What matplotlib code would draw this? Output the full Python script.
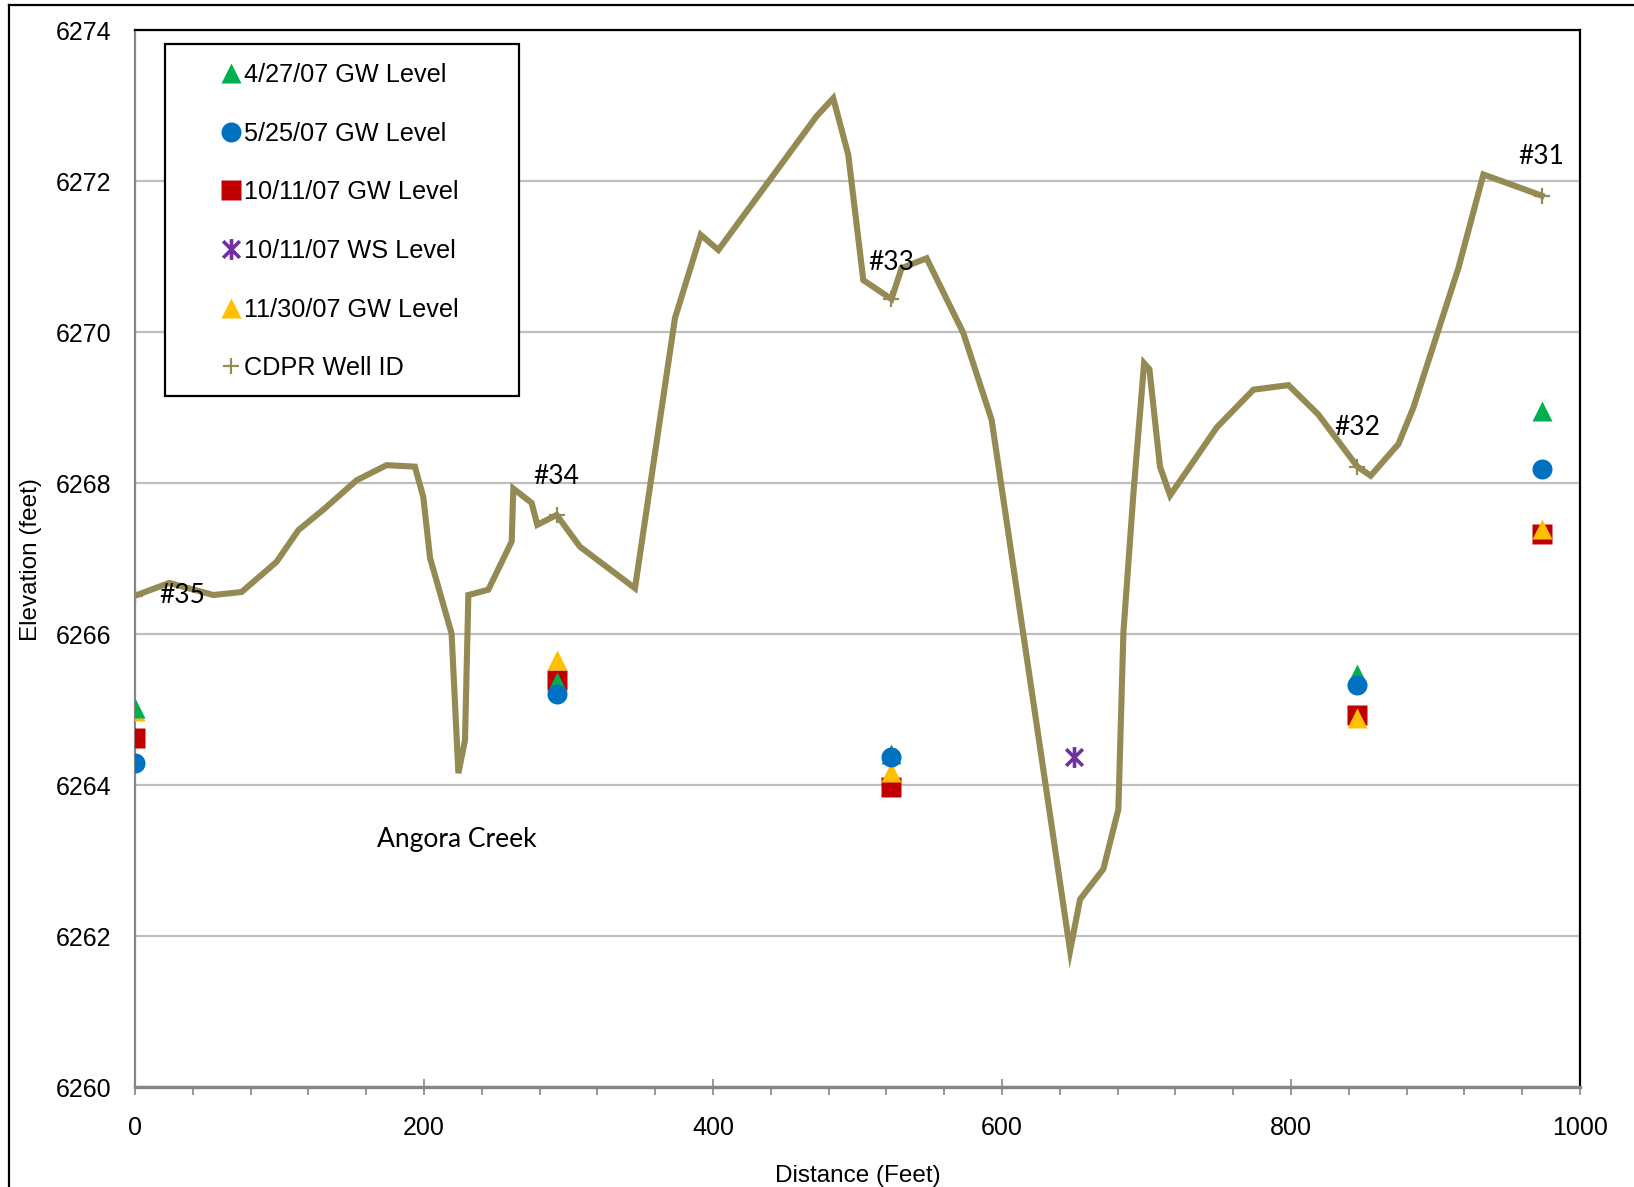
import matplotlib
matplotlib.use('Agg')
import matplotlib.pyplot as plt
from matplotlib.lines import Line2D
from matplotlib.patches import Rectangle
from matplotlib.path import Path
from matplotlib.ticker import MultipleLocator

# ground surface profile along the transect
profile_x = [0, 23.7, 54.2, 73.8, 98.0, 113.1, 130.3, 153.4, 174.1, 193.7, 199.5, 204.2,
             219.1, 223.8, 228.4, 230.7, 244.5, 260.7, 261.8, 274.5, 278.4, 291.8, 307.9,
             346.0, 373.7, 391.5, 403.7, 471.6, 483.2, 493.6, 504.0, 523.5, 530.5, 547.8,
             573.2, 592.8, 647.1, 654.0, 670.1, 680.5, 684.0, 690.9, 698.3, 702.0, 709.3,
             716.3, 748.6, 774.0, 798.2, 818.9, 845.9, 855.1, 874.3, 884.6, 915.8, 933.1, 973.4]
profile_y = [6266.51, 6266.68, 6266.52, 6266.56, 6266.96, 6267.38, 6267.65, 6268.04, 6268.24,
             6268.22, 6267.82, 6267.01, 6266.01, 6264.16, 6264.60, 6266.52, 6266.59, 6267.23,
             6267.93, 6267.74, 6267.45, 6267.58, 6267.16, 6266.61, 6270.19, 6271.29, 6271.09,
             6272.86, 6273.10, 6272.35, 6270.69, 6270.44, 6270.85, 6270.98, 6269.99, 6268.84,
             6261.81, 6262.49, 6262.89, 6263.68, 6266.03, 6267.86, 6269.59, 6269.51, 6268.22,
             6267.84, 6268.74, 6269.24, 6269.30, 6268.91, 6268.22, 6268.10, 6268.52, 6269.00,
             6270.85, 6272.09, 6271.81]

# wells
well_ids = ['#35', '#34', '#33', '#32', '#31']
well_x = [0, 291.8, 523.5, 845.9, 973.4]
well_y = [6266.51, 6267.58, 6270.44, 6268.22, 6271.81]

# groundwater levels at the wells
gw_0427 = [6265.02, 6265.37, 6264.42, 6265.47, 6268.96]
gw_0525 = [6264.30, 6265.21, 6264.38, 6265.33, 6268.19]
gw_1011 = [6264.62, 6265.40, 6263.98, 6264.93, 6267.33]
gw_1130 = [6264.98, 6265.66, 6264.17, 6264.89, 6267.40]

# surface water level
ws_x = [650]
ws_1011 = [6264.38]

line_col = '#948A54'
arial = 'Liberation Sans'

# excel style star: an X with a vertical bar through it
star = Path([(-0.8, -0.8), (0.8, 0.8), (-0.8, 0.8), (0.8, -0.8), (0, -1), (0, 1)],
            [Path.MOVETO, Path.LINETO, Path.MOVETO, Path.LINETO, Path.MOVETO, Path.LINETO])

fig = plt.figure(figsize=(16.34, 11.87), dpi=100)
ax = fig.add_axes([0.0826, 0.084, 0.8844, 0.8905])

ax.plot(profile_x, profile_y, color=line_col, lw=4.4, solid_joinstyle='miter', zorder=3)
ax.plot(well_x, well_y, ls='none', marker='+', ms=12, mew=1.6, color=line_col, zorder=3)

ms = 14.4
ax.plot(well_x, gw_1011, ls='none', marker='s', ms=ms, color='#C00000', mec='none', zorder=4)
ax.plot(well_x, gw_1130, ls='none', marker='^', ms=ms, color='#FFC000', mec='none', zorder=4)
ax.plot(well_x, gw_0427, ls='none', marker='^', ms=ms, color='#00B050', mec='none', zorder=4)
ax.plot(well_x, gw_0525, ls='none', marker='o', ms=ms, color='#0070C0', mec='none', zorder=4)
ax.plot(ws_x, ws_1011, ls='none', marker=star, ms=15, mew=2.6, color='#7030A0', zorder=4)

# well labels
offsets = [(34, 0), (0, 28), (0, 26), (0, 28), (0, 28.5)]
for wid, x, y, off in zip(well_ids, well_x, well_y, offsets):
    ax.annotate(wid, (x, y), xytext=off, textcoords='offset points',
                ha='center', va='center', fontsize=19, family='Lato', zorder=5)
ax.text(222.8, 6263.28, 'Angora Creek', ha='center', va='center', fontsize=19, family='Lato')

ax.set_xlim(0, 1000)
ax.set_ylim(6260, 6274)
ax.xaxis.set_major_locator(MultipleLocator(200))
ax.xaxis.set_minor_locator(MultipleLocator(40))
ax.yaxis.set_major_locator(MultipleLocator(2))
ax.grid(axis='y', color='#BFBFBF', lw=1.6)
ax.set_axisbelow(True)

ax.tick_params(axis='x', which='major', direction='inout', length=12, width=1.2,
               color='#868686', pad=15, labelsize=18)
ax.tick_params(axis='x', which='minor', direction='out', length=6, width=1.2, color='#868686')
ax.tick_params(axis='y', length=0, pad=17, labelsize=18)
for lab in ax.get_xticklabels() + ax.get_yticklabels():
    lab.set_family(arial)

ax.spines['left'].set_color('#868686')
ax.spines['left'].set_linewidth(1.6)
ax.spines['bottom'].set_color('#868686')
ax.spines['bottom'].set_linewidth(2.4)
ax.spines['top'].set_linewidth(1.6)
ax.spines['right'].set_linewidth(1.6)

ax.set_xlabel('Distance (Feet)', fontsize=17.5, family=arial, va='center')
ax.xaxis.set_label_coords(0.5, -0.084)
ax.set_ylabel('Elevation (feet)', fontsize=17.5, family=arial, va='center')
ax.yaxis.set_label_coords(-0.072, 0.499)

# legend
handles = [
    Line2D([], [], ls='none', marker='^', ms=ms, color='#00B050', mec='none'),
    Line2D([], [], ls='none', marker='o', ms=ms, color='#0070C0', mec='none'),
    Line2D([], [], ls='none', marker='s', ms=ms, color='#C00000', mec='none'),
    Line2D([], [], ls='none', marker=star, ms=15, mew=2.6, color='#7030A0'),
    Line2D([], [], ls='none', marker='^', ms=ms, color='#FFC000', mec='none'),
    Line2D([], [], ls='none', marker='+', ms=12, mew=1.6, color=line_col),
]
labels = ['4/27/07 GW Level', '5/25/07 GW Level', '10/11/07 GW Level',
          '10/11/07 WS Level', '11/30/07 GW Level', 'CDPR Well ID']
box = Rectangle((0.0205, 0.654), 0.2453, 0.333, transform=ax.transAxes,
                facecolor='white', edgecolor='black', lw=1.6, zorder=6)
ax.add_patch(box)
leg = ax.legend(handles, labels, loc='upper left', bbox_to_anchor=(0.0574, 0.969),
                frameon=False, borderpad=0, borderaxespad=0, handlelength=1.0,
                handletextpad=0.05, labelspacing=1.37, prop={'family': arial, 'size': 18.2})
leg.set_zorder(7)

# outer frame of the exported chart
fig.add_artist(Line2D([9 / 1634, 9 / 1634], [0, 1 - 5 / 1187], transform=fig.transFigure,
                      color='black', lw=1.6))
fig.add_artist(Line2D([9 / 1634, 1], [1 - 5 / 1187, 1 - 5 / 1187], transform=fig.transFigure,
                      color='black', lw=1.6))

fig.savefig('out.png', dpi=100)
